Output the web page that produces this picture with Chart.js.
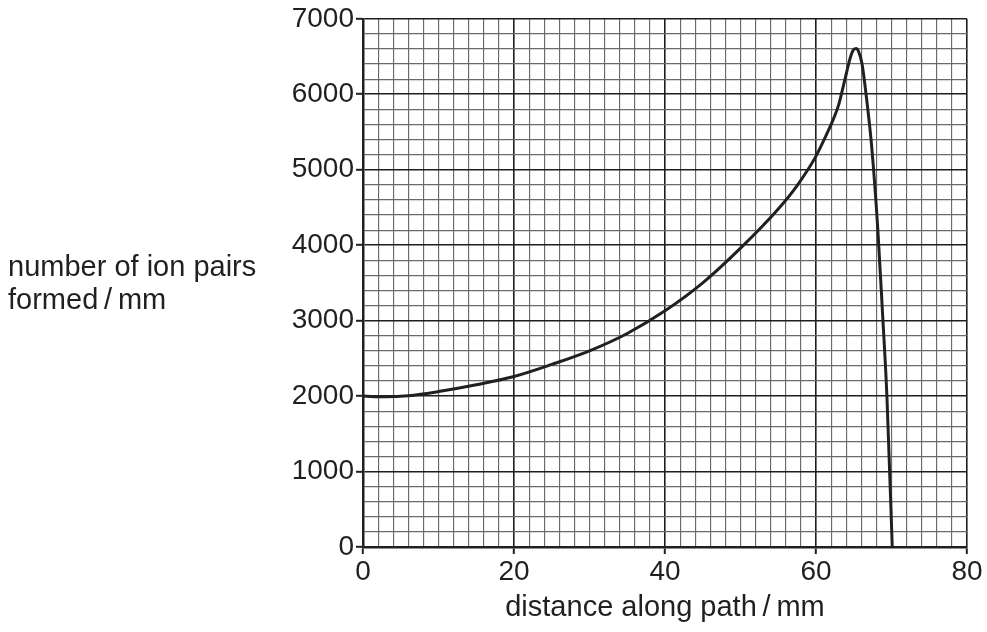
<!DOCTYPE html>
<html>
<head>
<meta charset="utf-8">
<script src="https://cdn.jsdelivr.net/npm/chart.js@4"></script>
<style>
  html, body { margin: 0; padding: 0; background: #ffffff; }
  #wrap { width: 987px; height: 632px; }
</style>
</head>
<body>
<div id="wrap"><canvas id="c" width="987" height="632"></canvas></div>
<script>
// Data
const distanceMm = [0, 3, 6, 10, 15, 20, 25, 30, 35, 40, 45, 50, 55, 57.5, 60, 61.6, 62.3, 63, 63.6, 64.1, 64.5, 64.9, 65.3, 65.7, 66.1, 66.7, 67.4, 68.2, 68.8, 69.4, 70.1];
const ionPairs   = [2000, 1990, 2005, 2060, 2150, 2260, 2420, 2600, 2830, 3130, 3500, 3960, 4480, 4790, 5180, 5510, 5670, 5860, 6100, 6310, 6470, 6580, 6605, 6550, 6400, 5940, 5280, 4190, 3120, 1980, 0];
const xTickLabels = [0, 20, 40, 60, 80];
const yTickLabels = [0, 1000, 2000, 3000, 4000, 5000, 6000, 7000];
const xTitle = 'distance along path\u2009/\u2009mm';
const yTitleLines = ['number of ion pairs', 'formed\u2009/\u2009mm'];

const FONT = '"Liberation Sans", Arial, sans-serif';
const INK = '#231f20';

const points = distanceMm.map((x, i) => ({ x: x, y: ionPairs[i] }));

const titlePlugin = {
  id: 'titles',
  afterDraw(chart) {
    const ctx = chart.ctx;
    const area = chart.chartArea;
    ctx.save();
    ctx.fillStyle = INK;
    ctx.font = '29px ' + FONT;
    ctx.textBaseline = 'middle';
    ctx.textAlign = 'left';
    ctx.fillText(yTitleLines[0], 8, 268);
    ctx.fillText(yTitleLines[1], 8, 301);
    ctx.textAlign = 'center';
    ctx.fillText(xTitle, (area.left + area.right) / 2, 608);
    ctx.restore();
  }
};

const isMajorX = v => xTickLabels.includes(v);
const isMajorY = v => yTickLabels.includes(v);

new Chart(document.getElementById('c'), {
  type: 'line',
  data: {
    datasets: [{
      data: points,
      borderColor: INK,
      borderWidth: 3,
      pointRadius: 0,
      fill: false,
      cubicInterpolationMode: 'monotone'
    }]
  },
  options: {
    responsive: false,
    animation: false,
    layout: { padding: { left: 0, right: 20, top: 17, bottom: 0 } },
    plugins: { legend: { display: false }, tooltip: { enabled: false } },
    scales: {
      x: {
        type: 'linear',
        min: 0, max: 80,
        afterFit(scale) { scale.height = 85; },
        border: { color: INK, width: 2.5 },
        grid: {
          color: c => isMajorX(c.tick.value) ? '#1e1e1e' : '#6a6a6a',
          lineWidth: c => isMajorX(c.tick.value) ? 1.6 : 1.15,
          tickColor: c => isMajorX(c.tick.value) ? INK : 'rgba(0,0,0,0)',
          tickLength: 7,
          tickWidth: 2
        },
        ticks: {
          stepSize: 2,
          autoSkip: false,
          maxRotation: 0,
          padding: 1,
          color: INK,
          font: { family: FONT, size: 28 },
          callback: v => isMajorX(v) ? String(v) : ''
        }
      },
      y: {
        type: 'linear',
        min: 0, max: 7000,
        afterFit(scale) { scale.width = 363; },
        border: { color: INK, width: 2.5 },
        grid: {
          color: c => isMajorY(c.tick.value) ? '#1e1e1e' : '#6a6a6a',
          lineWidth: c => isMajorY(c.tick.value) ? 1.6 : 1.15,
          tickColor: c => isMajorY(c.tick.value) ? INK : 'rgba(0,0,0,0)',
          tickLength: 7,
          tickWidth: 2
        },
        ticks: {
          stepSize: 200,
          autoSkip: false,
          padding: 2,
          color: INK,
          font: { family: FONT, size: 28 },
          callback: v => isMajorY(v) ? String(v) : ''
        }
      }
    }
  },
  plugins: [titlePlugin]
});
</script>
</body>
</html>
